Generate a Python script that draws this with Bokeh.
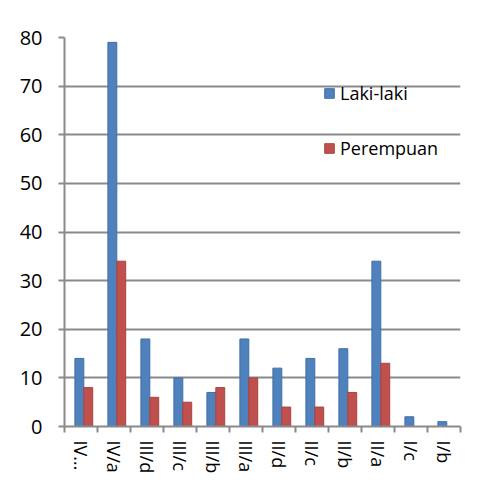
import numpy as np
from bokeh.plotting import figure
from bokeh.models import ColumnDataSource, FixedTicker, Range1d, Legend, LegendItem
from bokeh.embed import file_html
from bokeh.resources import INLINE

categories = ["IV…", "IV/a", "III/d", "III/c", "III/b", "III/a", "II/d", "II/c", "II/b", "II/a", "I/c", "I/b"]
laki_laki = [14, 79, 18, 10, 7, 18, 12, 14, 16, 34, 2, 1]
perempuan = [8, 34, 6, 5, 8, 10, 4, 4, 7, 13, 0, 0]
y_ticks = [0, 10, 20, 30, 40, 50, 60, 70, 80]

n = len(categories)
idx = np.arange(n)
centers = idx + 0.5
bar_w = 0.27
shift = 0.085

src = ColumnDataSource(dict(
    xb=centers - bar_w / 2 + shift,
    xr=centers + bar_w / 2 + shift,
    laki=laki_laki,
    per=perempuan,
))

FONT = "Open Sans"
GRID = "#8a8a8a"

p = figure(width=475, height=477, output_backend="svg", toolbar_location=None,
           x_range=Range1d(0, n), y_range=Range1d(0, 80),
           min_border_left=64, min_border_right=15, min_border_top=37, min_border_bottom=51)
p.outline_line_color = None
p.background_fill_color = "white"
p.border_fill_color = "white"

rb = p.vbar(x="xb", top="laki", width=bar_w, source=src, fill_color="#4F81BD", line_color="#3f6fa6", line_width=1)
rr = p.vbar(x="xr", top="per", width=bar_w, source=src, fill_color="#C0504D", line_color="#a84442", line_width=1)

# y axis
p.yaxis.ticker = FixedTicker(ticks=y_ticks)
p.yaxis.axis_line_color = GRID
p.yaxis.axis_line_width = 2
p.yaxis.major_tick_line_color = GRID
p.yaxis.major_tick_line_width = 2
p.yaxis.major_tick_out = 6
p.yaxis.major_tick_in = 0
p.yaxis.minor_tick_line_color = None
p.yaxis.major_label_text_font = FONT
p.yaxis.major_label_text_font_size = "20px"
p.yaxis.major_label_text_color = "black"
p.yaxis.major_label_standoff = 16

# x axis
p.xaxis.ticker = FixedTicker(ticks=list(centers), minor_ticks=list(range(n + 1)))
p.xaxis.major_label_overrides = {float(c): cat for c, cat in zip(centers, categories)}
p.xaxis.major_label_orientation = "vertical"
p.xaxis.axis_line_color = GRID
p.xaxis.axis_line_width = 2
p.xaxis.major_tick_line_color = None
p.xaxis.major_tick_out = 0
p.xaxis.major_tick_in = 0
p.xaxis.minor_tick_line_color = GRID
p.xaxis.minor_tick_line_width = 2
p.xaxis.minor_tick_out = 6
p.xaxis.minor_tick_in = 0
p.xaxis.major_label_text_font = FONT
p.xaxis.major_label_text_font_size = "18px"
p.xaxis.major_label_text_color = "black"
p.xaxis.major_label_standoff = 8

p.xgrid.grid_line_color = None
p.ygrid.ticker = FixedTicker(ticks=y_ticks)
p.ygrid.grid_line_color = GRID
p.ygrid.grid_line_width = 2

legend = Legend(items=[LegendItem(label="Laki-laki", renderers=[rb]),
                       LegendItem(label="Perempuan", renderers=[rr])],
                location=(259, 266), orientation="vertical")
legend.background_fill_alpha = 0
legend.border_line_color = None
legend.glyph_width = 12
legend.glyph_height = 12
legend.label_height = 20
legend.spacing = 31
legend.padding = 0
legend.margin = 0
legend.label_standoff = 5
legend.label_text_font = FONT
legend.label_text_font_size = "18px"
legend.label_text_color = "black"
p.add_layout(legend)

open("out.html", "w").write(file_html(p, INLINE))
